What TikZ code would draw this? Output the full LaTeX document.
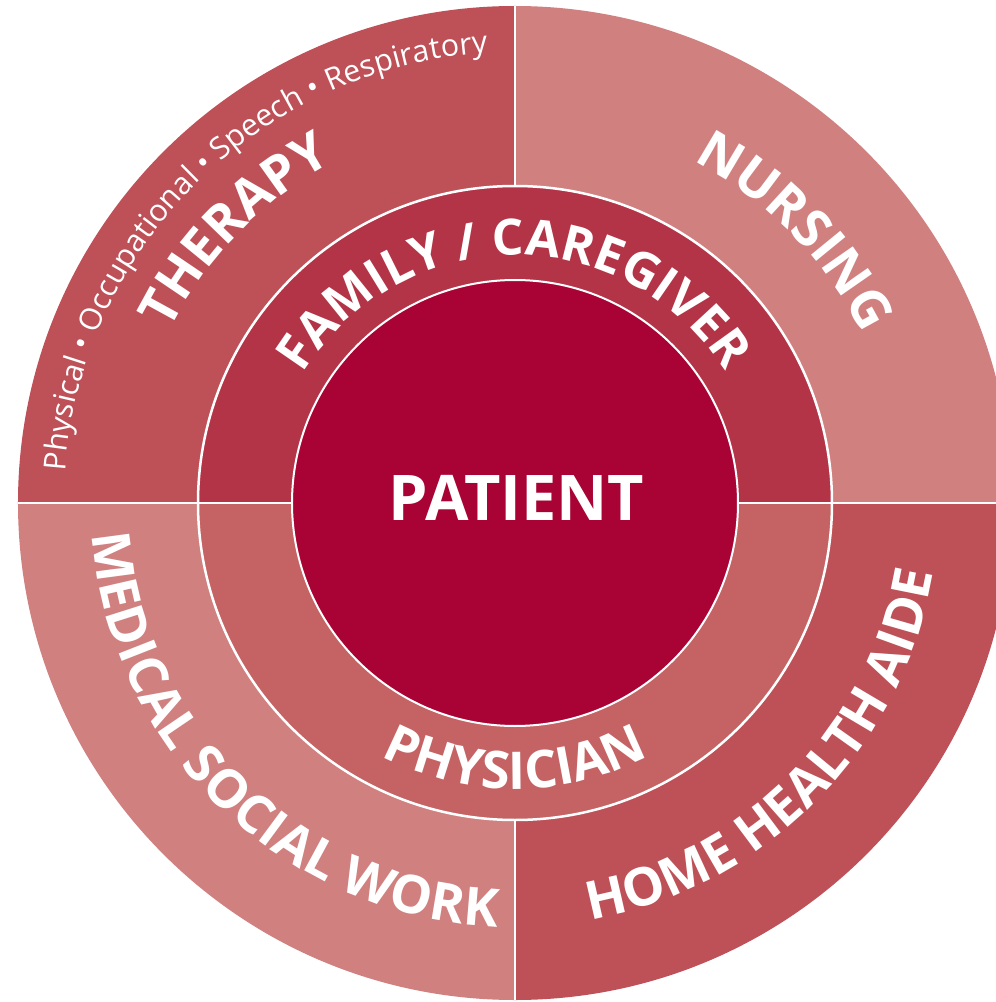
\documentclass[tikz,border=0pt]{standalone}
\usepackage{fontspec}
\setmainfont{Open Sans}
\usetikzlibrary{decorations.text}
\definecolor{cTher}{HTML}{BE5057}
\definecolor{cNurs}{HTML}{D18080}
\definecolor{cFam}{HTML}{B43447}
\definecolor{cPhys}{HTML}{C56364}
\definecolor{cPat}{HTML}{A80334}
\newcommand{\outerfont}{\fontsize{53}{60}\selectfont\bfseries}
\newcommand{\midfont}{\fontsize{50}{60}\selectfont\bfseries}
\newcommand{\physfont}{\fontsize{52}{60}\selectfont\bfseries}
\newcommand{\smallfont}{\fontsize{30.5}{36}\selectfont}
\tikzset{
  sepline/.style={white, line width=2.5pt},
  ringoutline/.style={white, line width=2.5pt},
  ringtext/.style={decorate, decoration={text along path, text align=center, text color=white, text={#1}}},
}
\begin{document}
\begin{tikzpicture}[x=1pt,y=1pt]
\useasboundingbox (-515,-499) rectangle (481,503);
\clip (-515,-499) rectangle (481,503);
% outer ring quadrants
\fill[cTher] (0,0) -- (180:497) arc[start angle=180,end angle=90,radius=497] -- cycle;
\fill[cNurs] (0,0) -- (90:497) arc[start angle=90,end angle=0,radius=497] -- cycle;
\fill[cNurs] (0,0) -- (180:497) arc[start angle=180,end angle=270,radius=497] -- cycle;
\fill[cTher] (0,0) -- (270:497) arc[start angle=270,end angle=360,radius=497] -- cycle;
% separators in outer ring
\draw[sepline] (90:317) -- (90:497);
\draw[sepline] (270:317) -- (270:497);
\draw[sepline] (0:317) -- (0:497);
\draw[sepline] (180:317) -- (180:497);
% middle ring
\fill[cFam] (0:317) arc[start angle=0,end angle=180,radius=317] -- cycle;
\fill[cPhys] (180:317) arc[start angle=180,end angle=360,radius=317] -- cycle;
\draw[ringoutline] (0,0) circle[radius=317];
\draw[sepline] (180:223) -- (180:317);
\draw[sepline] (0:223) -- (0:317);
% inner circle
\fill[cPat] (0,0) circle[radius=223];
\draw[ringoutline, line width=2pt] (0,0) circle[radius=223];
\node[anchor=base, inner sep=0pt, text=white, font=\fontsize{63}{70}\selectfont\bfseries] (patient) at (1.5,-17) {PATIENT};
% curved labels
\path[ringtext={|\midfont|FAMILY / CAREGIVER}] (170.3:248) arc[start angle=170.3,end angle=10.3,radius=248];
\path[ringtext={|\physfont|PHYSICIAN}] (190:286) arc[start angle=190,end angle=350,radius=286];
\path[ringtext={|\outerfont|THERAPY}] (215.8:386) arc[start angle=215.8,end angle=55.8,radius=386];
\path[ringtext={|\smallfont|Physical • Occupational • Speech • Respiratory}] (214.7:451) arc[start angle=214.7,end angle=54.7,radius=451];
\path[ringtext={|\outerfont|NURSING}] (124.2:386) arc[start angle=124.2,end angle=-35.8,radius=386];
\path[ringtext={|\outerfont|MEDICAL SOCIAL WORK}] (145.9:424) arc[start angle=145.9,end angle=305.9,radius=424];
\path[ringtext={|\outerfont|HOME HEALTH AIDE}] (235.4:424) arc[start angle=235.4,end angle=395.4,radius=424];
\end{tikzpicture}
\end{document}
